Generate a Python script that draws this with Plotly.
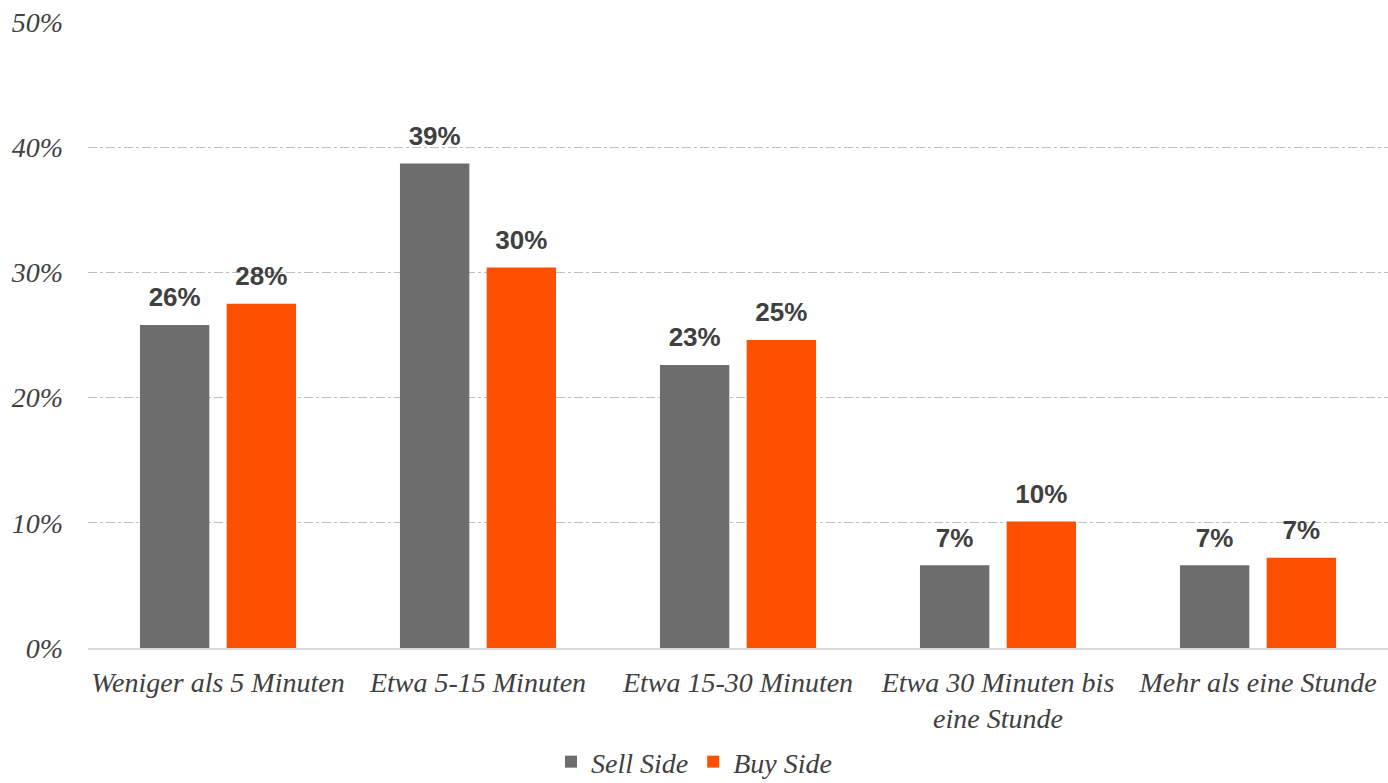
import plotly.graph_objects as go

categories = [
    "Weniger als 5 Minuten",
    "Etwa 5-15 Minuten",
    "Etwa 15-30 Minuten",
    "Etwa 30 Minuten bis<br>eine Stunde",
    "Mehr als eine Stunde",
]
sell_side = [0.258, 0.387, 0.226, 0.066, 0.066]
buy_side = [0.275, 0.304, 0.246, 0.101, 0.072]
y_ticks = [0, 0.1, 0.2, 0.3, 0.4, 0.5]

SERIF = "Liberation Serif"
TEXT_COLOR = "#404040"
SERIF_FONT = dict(family=SERIF, size=28, color=TEXT_COLOR, style="italic")
LABEL_FONT = dict(family="Liberation Sans", size=26, color=TEXT_COLOR,
                  weight="bold", style="normal")

BAR_GAP = 0.333
GROUP_GAP = 0.2

series = [
    ("Sell Side", sell_side, "#6d6d6d"),
    ("Buy Side", buy_side, "#ff5000"),
]

fig = go.Figure()
for name, values, color in series:
    fig.add_trace(go.Bar(
        x=categories,
        y=values,
        name=name,
        offsetgroup=name,
        marker=dict(color=color, line=dict(width=0)),
    ))

# value labels: grouped scatter text sitting above each bar
for name, values, color in series:
    fig.add_trace(go.Scatter(
        x=categories,
        y=values,
        offsetgroup=name,
        mode="markers+text",
        marker=dict(size=18, opacity=0),
        text=[f"{round(v * 100):.0f}%" for v in values],
        textposition="top center",
        textfont=LABEL_FONT,
        showlegend=False,
        hoverinfo="skip",
        cliponaxis=False,
    ))

fig.update_layout(
    width=1388,
    height=783,
    margin=dict(l=88, r=0, t=22, b=135, autoexpand=False),
    paper_bgcolor="white",
    plot_bgcolor="white",
    barmode="group",
    scattermode="group",
    bargap=BAR_GAP,
    bargroupgap=GROUP_GAP,
    scattergap=BAR_GAP,
    font=SERIF_FONT,
    showlegend=True,
    legend=dict(
        orientation="h",
        xref="container",
        x=0.5, xanchor="center",
        y=-0.182, yanchor="middle",
        font=SERIF_FONT,
        itemwidth=30,
        tracegroupgap=0,
    ),
    xaxis=dict(
        automargin=False,
        showgrid=False,
        showline=True,
        linecolor="#d9d9d9",
        linewidth=2,
        ticks="",
        ticklabelstandoff=8,
        tickfont=SERIF_FONT,
    ),
    yaxis=dict(
        automargin=False,
        range=[0, 0.5],
        tickvals=y_ticks,
        tickformat=".0%",
        showgrid=True,
        gridcolor="#bfbfbf",
        griddash="dashdot",
        gridwidth=1,
        zeroline=False,
        showline=False,
        ticks="",
        ticklabelstandoff=24,
        tickfont=SERIF_FONT,
    ),
)

fig.write_html("out.html")
